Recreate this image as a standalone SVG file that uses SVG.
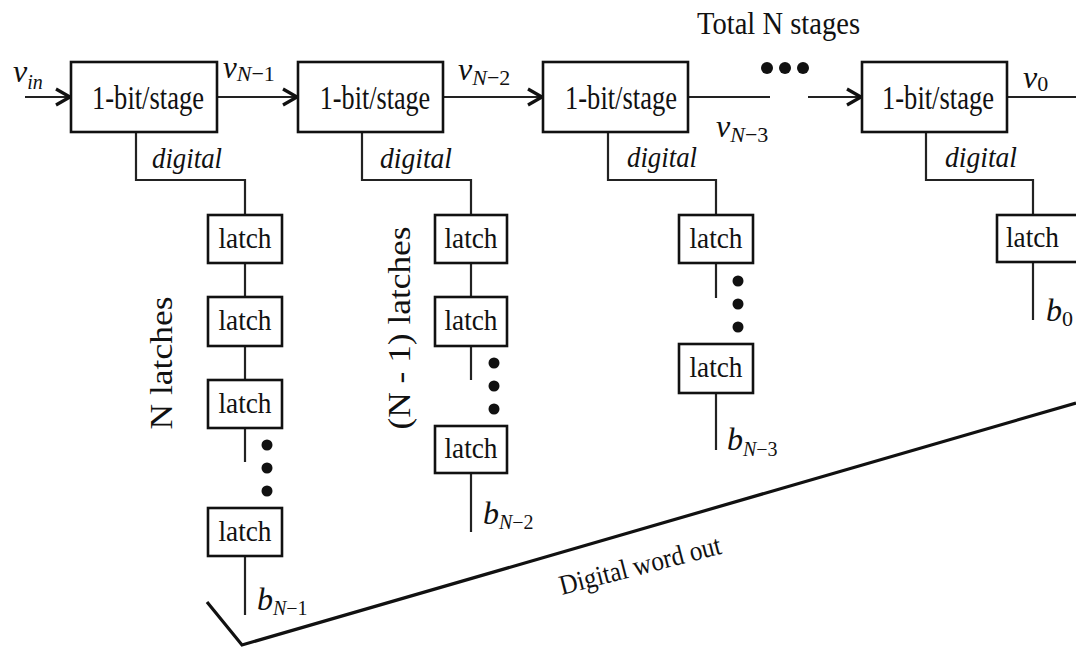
<svg xmlns="http://www.w3.org/2000/svg" width="1076" height="648" viewBox="0 0 1076 648">
<defs>
<style>
.box{fill:#fff;stroke:#111;stroke-width:2.6}
.ln{fill:none;stroke:#222;stroke-width:2.2}
.thick{fill:none;stroke:#111;stroke-width:3.2}
.t{font-family:"Liberation Serif","Times New Roman",serif;fill:#111}
.stage{font-size:34px}
.latch{font-size:29px}
.it{font-style:italic}
.dig{font-size:29px;font-style:italic}
.dot{fill:#111}
</style>
<marker id="arr" viewBox="-16 -10 18 20" markerWidth="18" markerHeight="20" refX="0" refY="0" orient="auto" markerUnits="userSpaceOnUse">
<path d="M-14,-8 L0,0 L-14,8" fill="none" stroke="#111" stroke-width="3.2" stroke-linejoin="miter"/>
</marker>
</defs>
<rect width="1076" height="648" fill="#fff"/>

<g id="connectors">
<line class="ln" x1="25" y1="97" x2="70" y2="97" marker-end="url(#arr)"/>
<line class="ln" x1="217" y1="97" x2="297" y2="97" marker-end="url(#arr)"/>
<line class="ln" x1="443" y1="97" x2="542" y2="97" marker-end="url(#arr)"/>
<line class="ln" x1="688" y1="97" x2="770" y2="97"/>
<line class="ln" x1="808" y1="97" x2="861" y2="97" marker-end="url(#arr)"/>
<line class="ln" x1="1007" y1="97" x2="1076" y2="97"/>
<polyline class="ln" points="136,132 136,180 245,180 245,215"/>
<polyline class="ln" points="362,132 362,180 471,180 471,215"/>
<polyline class="ln" points="608,132 608,180 716,180 716,215"/>
<polyline class="ln" points="926,132 926,180 1033,180 1033,215"/>
<line class="ln" x1="245" y1="263" x2="245" y2="297"/>
<line class="ln" x1="245" y1="346" x2="245" y2="380"/>
<line class="ln" x1="245" y1="428" x2="245" y2="462"/>
<line class="ln" x1="245" y1="556" x2="245" y2="615"/>
<line class="ln" x1="471" y1="263" x2="471" y2="297"/>
<line class="ln" x1="471" y1="346" x2="471" y2="380"/>
<line class="ln" x1="471" y1="473" x2="471" y2="532"/>
<line class="ln" x1="716" y1="263" x2="716" y2="298"/>
<line class="ln" x1="716" y1="393" x2="716" y2="450"/>
<line class="ln" x1="1033" y1="262" x2="1033" y2="320"/>
<polyline class="thick" points="207,602 242,645 1076,403"/>
</g>

<g id="stage1"><rect class="box" x="71" y="62" width="146" height="70"/><text class="t stage" text-anchor="middle" transform="translate(148,109) scale(0.78,1)">1-bit/stage</text></g>
<g id="stage2"><rect class="box" x="298" y="62" width="145" height="70"/><text class="t stage" text-anchor="middle" transform="translate(375,109) scale(0.77,1)">1-bit/stage</text></g>
<g id="stage3"><rect class="box" x="543" y="62" width="145" height="70"/><text class="t stage" text-anchor="middle" transform="translate(621,109) scale(0.78,1)">1-bit/stage</text></g>
<g id="stage4"><rect class="box" x="862" y="62" width="145" height="70"/><text class="t stage" text-anchor="middle" transform="translate(938,109) scale(0.78,1)">1-bit/stage</text></g>

<g id="latch1a"><rect class="box" x="208" y="215" width="74" height="48"/><text class="t latch" x="245" y="248" text-anchor="middle" textLength="53" lengthAdjust="spacingAndGlyphs">latch</text></g>
<g id="latch1b"><rect class="box" x="208" y="297" width="74" height="49"/><text class="t latch" x="245" y="330" text-anchor="middle" textLength="53" lengthAdjust="spacingAndGlyphs">latch</text></g>
<g id="latch1c"><rect class="box" x="208" y="380" width="74" height="48"/><text class="t latch" x="245" y="413" text-anchor="middle" textLength="53" lengthAdjust="spacingAndGlyphs">latch</text></g>
<g id="latch1d"><rect class="box" x="208" y="508" width="74" height="48"/><text class="t latch" x="245" y="541" text-anchor="middle" textLength="53" lengthAdjust="spacingAndGlyphs">latch</text></g>
<g id="latch2a"><rect class="box" x="435" y="215" width="72" height="48"/><text class="t latch" x="471" y="248" text-anchor="middle" textLength="53" lengthAdjust="spacingAndGlyphs">latch</text></g>
<g id="latch2b"><rect class="box" x="435" y="297" width="72" height="49"/><text class="t latch" x="471" y="330" text-anchor="middle" textLength="53" lengthAdjust="spacingAndGlyphs">latch</text></g>
<g id="latch2c"><rect class="box" x="435" y="426" width="72" height="47"/><text class="t latch" x="471" y="458" text-anchor="middle" textLength="53" lengthAdjust="spacingAndGlyphs">latch</text></g>
<g id="latch3a"><rect class="box" x="679" y="215" width="74" height="48"/><text class="t latch" x="716" y="248" text-anchor="middle" textLength="53" lengthAdjust="spacingAndGlyphs">latch</text></g>
<g id="latch3b"><rect class="box" x="679" y="344" width="74" height="49"/><text class="t latch" x="716" y="377" text-anchor="middle" textLength="53" lengthAdjust="spacingAndGlyphs">latch</text></g>
<g id="latch4a"><rect class="box" x="997" y="215" width="82" height="47"/><text class="t latch" x="1006" y="247" textLength="53" lengthAdjust="spacingAndGlyphs">latch</text></g>

<g id="dots">
<circle class="dot" cx="767" cy="68" r="6"/><circle class="dot" cx="785" cy="68" r="6"/><circle class="dot" cx="803" cy="68" r="6"/>
<circle class="dot" cx="267" cy="445" r="5.5"/><circle class="dot" cx="267" cy="468" r="5.5"/><circle class="dot" cx="267" cy="491" r="5.5"/>
<circle class="dot" cx="494" cy="363" r="5.5"/><circle class="dot" cx="494" cy="386" r="5.5"/><circle class="dot" cx="494" cy="409" r="5.5"/>
<circle class="dot" cx="738" cy="281" r="5.5"/><circle class="dot" cx="738" cy="304" r="5.5"/><circle class="dot" cx="738" cy="327" r="5.5"/>
</g>

<g id="labels">
<text class="t" x="697" y="34" font-size="32" textLength="163" lengthAdjust="spacingAndGlyphs">Total N stages</text>
<text class="t dig" x="152" y="168" textLength="70" lengthAdjust="spacingAndGlyphs">digital</text>
<text class="t dig" x="380" y="168" textLength="72" lengthAdjust="spacingAndGlyphs">digital</text>
<text class="t dig" x="627" y="167" textLength="70" lengthAdjust="spacingAndGlyphs">digital</text>
<text class="t dig" x="945" y="167" textLength="72" lengthAdjust="spacingAndGlyphs">digital</text>
<text class="t it" x="13" y="82" font-size="32">v<tspan font-size="20" dy="7">in</tspan></text>
<text class="t it" x="223" y="78" font-size="31">v<tspan font-size="22" dy="3">N</tspan><tspan font-size="22" font-style="normal">−1</tspan></text>
<text class="t it" x="458" y="80" font-size="32">v<tspan font-size="22" dy="5">N</tspan><tspan font-size="22" font-style="normal">−2</tspan></text>
<text class="t it" x="716" y="137" font-size="32">v<tspan font-size="22" dy="5">N</tspan><tspan font-size="22" font-style="normal">−3</tspan></text>
<text class="t it" x="1023" y="88" font-size="32">v<tspan font-size="22" dy="3" font-style="normal">0</tspan></text>
<text class="t it" x="257" y="610" font-size="32">b<tspan font-size="20" dy="5">N</tspan><tspan font-size="20" font-style="normal">−1</tspan></text>
<text class="t it" x="483" y="524" font-size="32">b<tspan font-size="20" dy="5">N</tspan><tspan font-size="20" font-style="normal">−2</tspan></text>
<text class="t it" x="727" y="450" font-size="32">b<tspan font-size="20" dy="6">N</tspan><tspan font-size="20" font-style="normal">−3</tspan></text>
<text class="t it" x="1046" y="321" font-size="32">b<tspan font-size="22" dy="5" font-style="normal">0</tspan></text>
<text class="t" font-size="32" text-anchor="middle" textLength="133" lengthAdjust="spacingAndGlyphs" transform="translate(172,363) rotate(-90)">N latches</text>
<text class="t" font-size="32" text-anchor="middle" textLength="203" lengthAdjust="spacingAndGlyphs" transform="translate(410,328) rotate(-90)">(N - 1) latches</text>
<text class="t" font-size="28" textLength="166" lengthAdjust="spacingAndGlyphs" transform="translate(562,595) rotate(-14.5)">Digital word out</text>
</g>
</svg>
